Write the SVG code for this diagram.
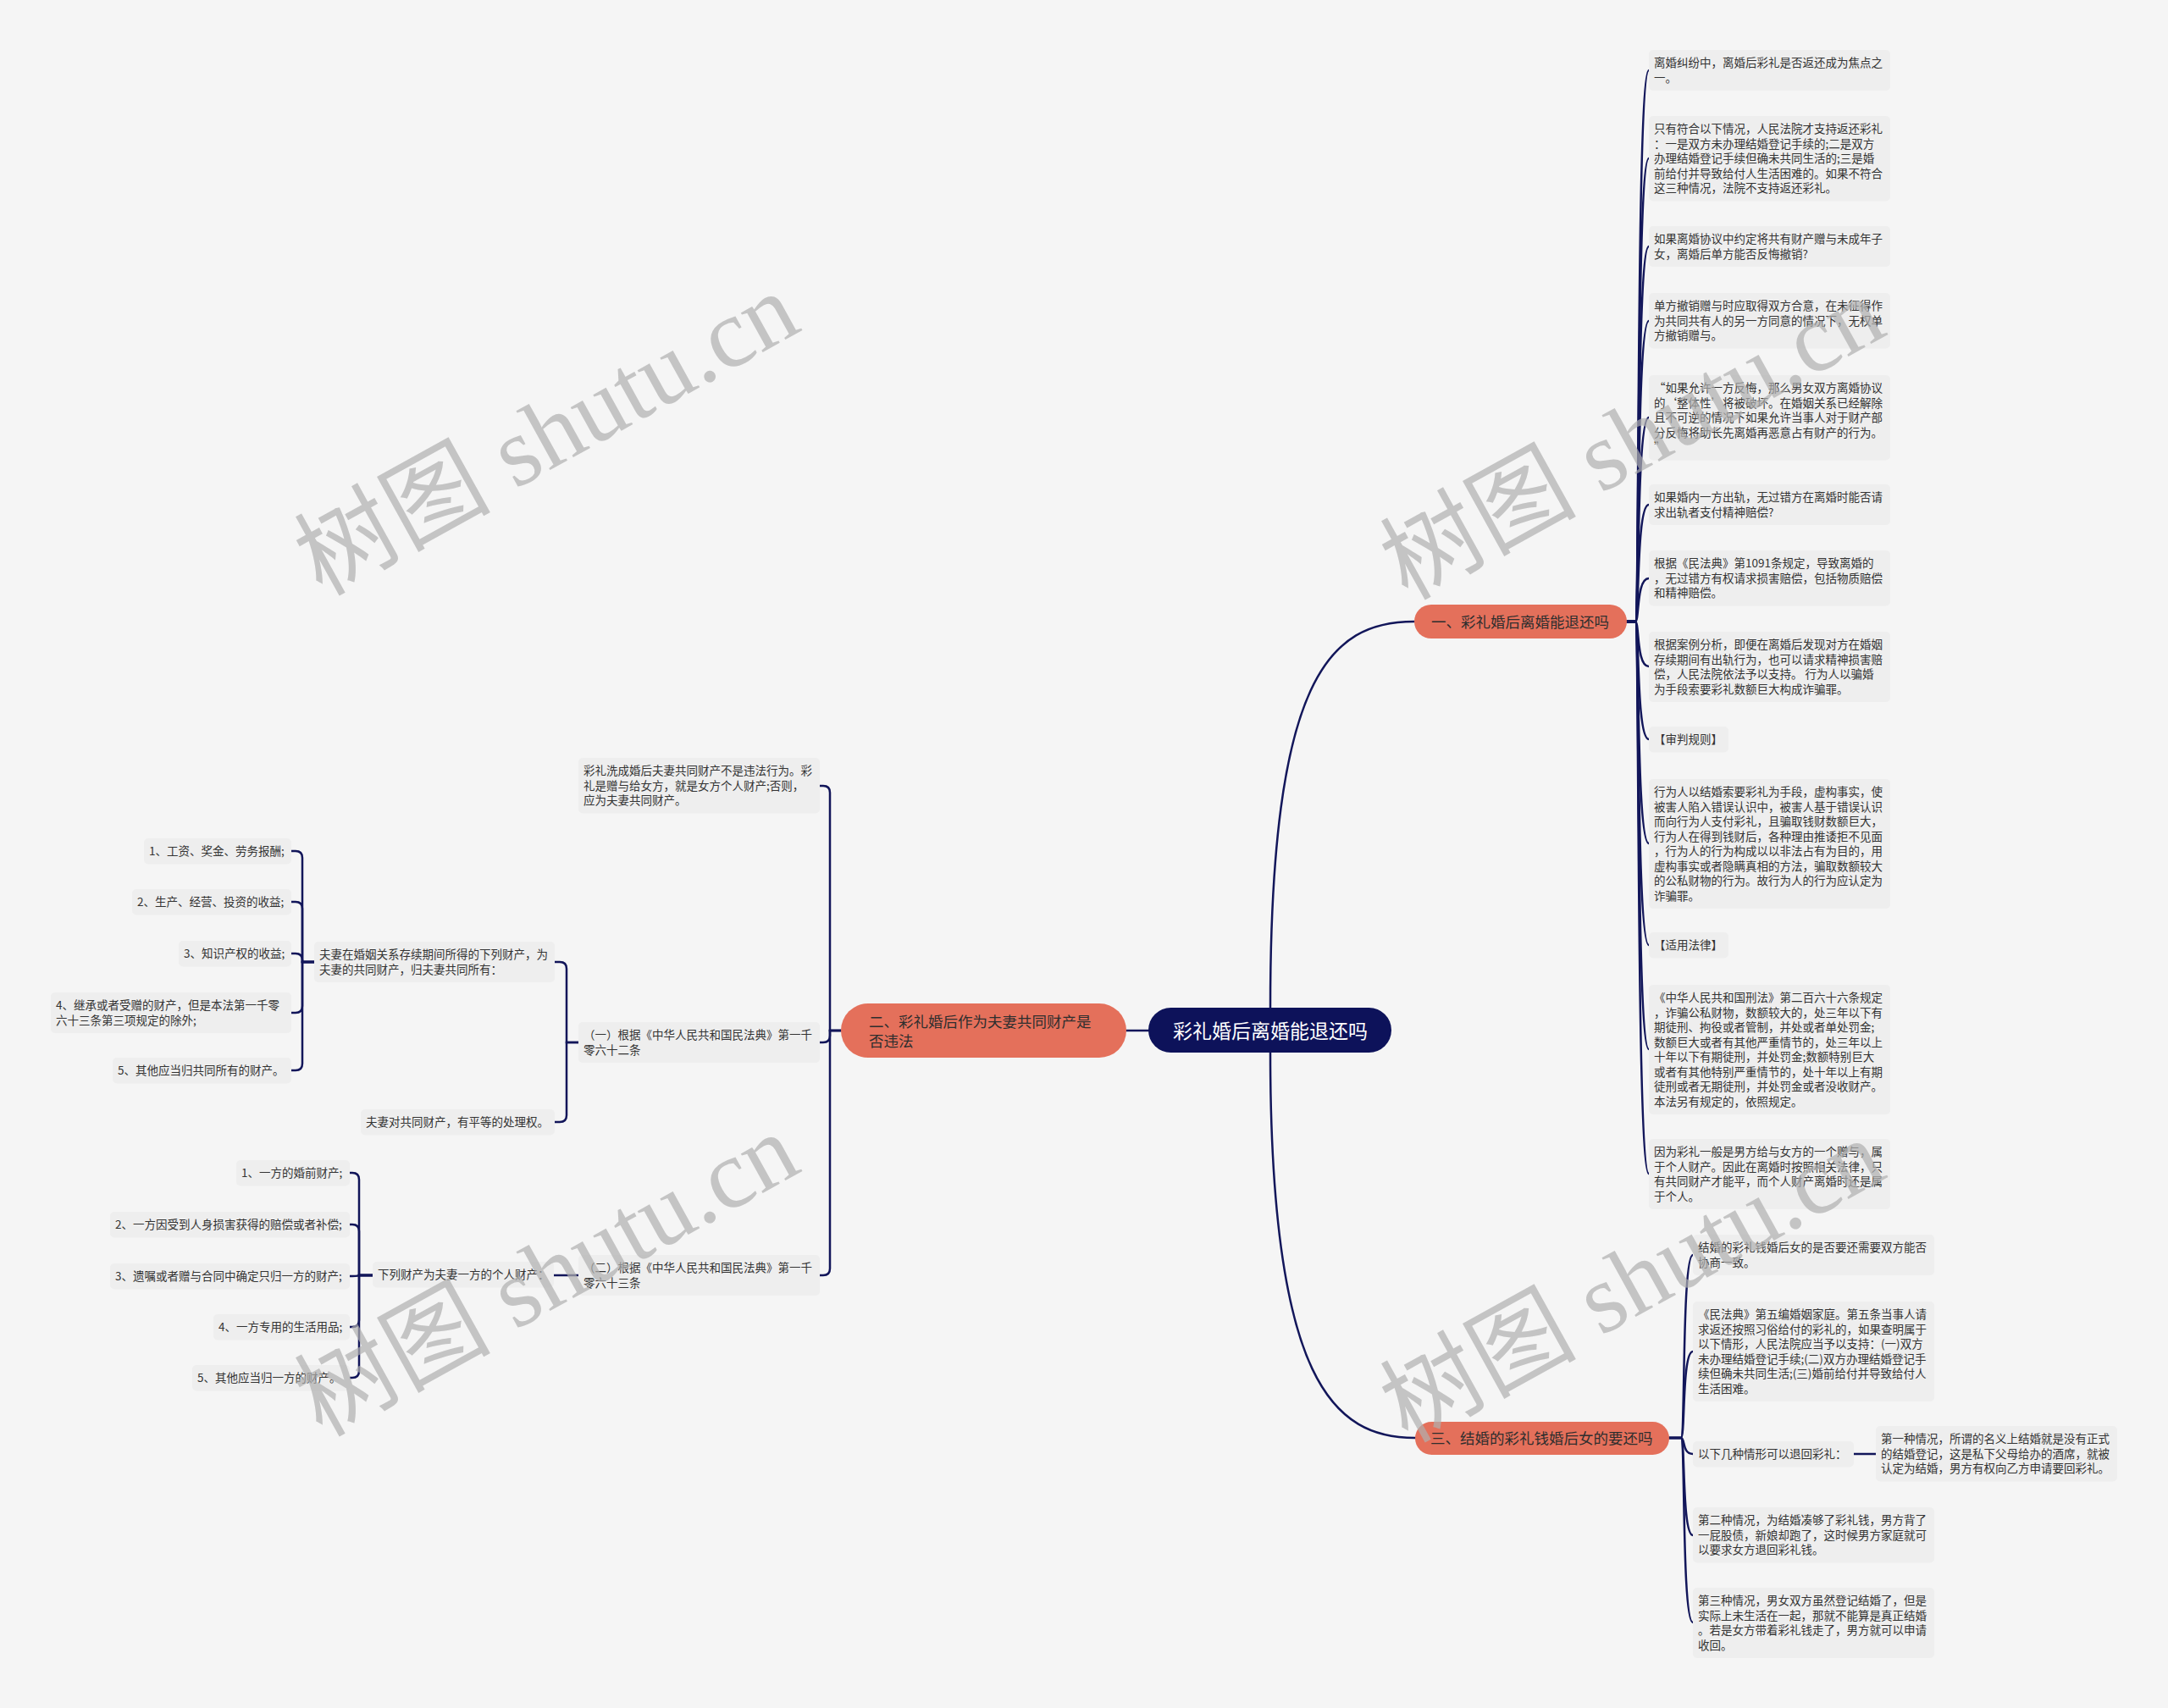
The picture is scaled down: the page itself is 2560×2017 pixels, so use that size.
<svg xmlns="http://www.w3.org/2000/svg" width="2560" height="2017" viewBox="0 0 2560 2017">
<style>
.bg{fill:#f5f5f5}
.leaf rect{fill:#eeeeee}
.leaf text{font-family:'Noto Sans CJK SC','Noto Sans',sans-serif;font-size:13.5px;fill:#333333}
.branch rect{fill:#e4705b}
.branch text{font-family:'Noto Sans CJK SC','Noto Sans',sans-serif;font-size:17.5px;fill:#2e2e2e}
.root rect{fill:#0d125a}
.root text{font-family:'Noto Sans CJK SC','Noto Sans',sans-serif;font-size:23px;fill:#ffffff}
.conn path{fill:none;stroke:#12165a;stroke-width:2.5;stroke-linecap:round}
.wm{font-family:'Liberation Serif','Noto Sans CJK SC',serif;font-size:116px;fill:#b0b0b0;opacity:0.7}
</style>
<rect class="bg" x="0" y="0" width="2560" height="2017"/>

<g id="connectors" class="conn">
  <path d="M1500,1190 C1500,800 1570,734 1670,734"/>
  <path d="M1500,1243 C1500,1632 1575,1698 1671,1698"/>
  <path d="M1356,1217 H1330"/>
  <path d="M1921,734 L1931,734 C1936,734 1932,83 1947,83"/>
  <path d="M1921,734 L1931,734 C1936,734 1932,187 1947,187"/>
  <path d="M1921,734 L1931,734 C1936,734 1932,291 1947,291"/>
  <path d="M1921,734 L1931,734 C1936,734 1932,379 1947,379"/>
  <path d="M1921,734 L1931,734 C1936,734 1932,493 1947,493"/>
  <path d="M1921,734 L1931,734 C1936,734 1932,596 1947,596"/>
  <path d="M1921,734 L1931,734 C1936,734 1932,683 1947,683"/>
  <path d="M1921,734 L1931,734 C1936,734 1932,787 1947,787"/>
  <path d="M1921,734 L1931,734 C1936,734 1932,873 1947,873"/>
  <path d="M1921,734 L1931,734 C1936,734 1932,996 1947,996"/>
  <path d="M1921,734 L1931,734 C1936,734 1932,1116 1947,1116"/>
  <path d="M1921,734 L1931,734 C1936,734 1932,1239 1947,1239"/>
  <path d="M1921,734 L1931,734 C1936,734 1932,1386 1947,1386"/>
  <path d="M1971,1698 L1985,1698 C1990,1698 1986,1482 1999,1482"/>
  <path d="M1971,1698 L1985,1698 C1990,1698 1986,1596 1999,1596"/>
  <path d="M1971,1698 L1985,1698 C1990,1698 1986,1717 1999,1717"/>
  <path d="M1971,1698 L1985,1698 C1990,1698 1986,1813 1999,1813"/>
  <path d="M1971,1698 L1985,1698 C1990,1698 1986,1916 1999,1916"/>
  <path d="M2189,1717 H2215"/>
  <path d="M993,1217 H980 V936 Q980,928 972,928 H968"/>
  <path d="M993,1217 H980 V1223 Q980,1231 972,1231 H968"/>
  <path d="M993,1217 H980 V1498 Q980,1506 972,1506 H968"/>
  <path d="M683,1231 H669 V1144 Q669,1136 661,1136 H655"/>
  <path d="M683,1231 H669 V1317 Q669,1325 661,1325 H655"/>
  <path d="M371,1136 H357 V1013 Q357,1005 349,1005 H344"/>
  <path d="M371,1136 H357 V1073 Q357,1065 349,1065 H344"/>
  <path d="M371,1136 H357 V1134 Q357,1126 349,1126 H344"/>
  <path d="M371,1136 H357 V1188 Q357,1196 349,1196 H344"/>
  <path d="M371,1136 H357 V1256 Q357,1264 349,1264 H344"/>
  <path d="M683,1506 H654"/>
  <path d="M440,1506 H424 V1393 Q424,1385 416,1385 H413"/>
  <path d="M440,1506 H424 V1454 Q424,1446 416,1446 H413"/>
  <path d="M440,1506 H424 V1506 Q424,1507 416,1507 H413"/>
  <path d="M440,1506 H424 V1559 Q424,1567 416,1567 H413"/>
  <path d="M440,1506 H424 V1619 Q424,1627 416,1627 H413"/>
</g>

<g id="root" class="root">
  <rect x="1356" y="1190" width="287" height="53" rx="26.5"/>
  <text x="1500" y="1225.7" text-anchor="middle">彩礼婚后离婚能退还吗</text>
</g>

<g id="branch-1" class="branch">
  <rect x="1670" y="714" width="251" height="40" rx="20"/>
  <text x="1690" y="740.7">一、彩礼婚后离婚能退还吗</text>
</g>
<g id="branch-2" class="branch">
  <rect x="993" y="1185" width="337" height="64" rx="32"/>
  <text><tspan x="1026" y="1213">二、彩礼婚后作为夫妻共同财产是</tspan><tspan x="1026" y="1236">否违法</tspan></text>
</g>
<g id="branch-3" class="branch">
  <rect x="1671" y="1679" width="300" height="39" rx="19.5"/>
  <text x="1689" y="1704.7">三、结婚的彩礼钱婚后女的要还吗</text>
</g>

<g id="r1" class="leaf"><rect x="1947" y="59" width="285" height="48" rx="5"/>
<text><tspan x="1953" y="79.4">离婚纠纷中，离婚后彩礼是否返还成为焦点之</tspan><tspan x="1953" y="96.9">一。</tspan></text></g>
<g id="r2" class="leaf"><rect x="1947" y="137" width="285" height="100.5" rx="5"/>
<text><tspan x="1953" y="157.4">只有符合以下情况，人民法院才支持返还彩礼</tspan><tspan x="1953" y="174.9">：一是双方未办理结婚登记手续的;二是双方</tspan><tspan x="1953" y="192.4">办理结婚登记手续但确未共同生活的;三是婚</tspan><tspan x="1953" y="209.9">前给付并导致给付人生活困难的。如果不符合</tspan><tspan x="1953" y="227.4">这三种情况，法院不支持返还彩礼。</tspan></text></g>
<g id="r3" class="leaf"><rect x="1947" y="267" width="285" height="48" rx="5"/>
<text><tspan x="1953" y="287.4">如果离婚协议中约定将共有财产赠与未成年子</tspan><tspan x="1953" y="304.9">女，离婚后单方能否反悔撤销?</tspan></text></g>
<g id="r4" class="leaf"><rect x="1947" y="346" width="285" height="65.5" rx="5"/>
<text><tspan x="1953" y="366.4">单方撤销赠与时应取得双方合意，在未征得作</tspan><tspan x="1953" y="383.9">为共同共有人的另一方同意的情况下，无权单</tspan><tspan x="1953" y="401.4">方撤销赠与。</tspan></text></g>
<g id="r5" class="leaf"><rect x="1947" y="443" width="285" height="100.5" rx="5"/>
<text><tspan x="1953" y="463.4">“如果允许一方反悔，那么男女双方离婚协议</tspan><tspan x="1953" y="480.9">的‘整体性’将被破坏。在婚姻关系已经解除</tspan><tspan x="1953" y="498.4">且不可逆的情况下如果允许当事人对于财产部</tspan><tspan x="1953" y="515.9">分反悔将助长先离婚再恶意占有财产的行为。</tspan><tspan x="1953" y="533.4">”</tspan></text></g>
<g id="r6" class="leaf"><rect x="1947" y="572" width="285" height="48" rx="5"/>
<text><tspan x="1953" y="592.4">如果婚内一方出轨，无过错方在离婚时能否请</tspan><tspan x="1953" y="609.9">求出轨者支付精神赔偿?</tspan></text></g>
<g id="r7" class="leaf"><rect x="1947" y="650" width="285" height="65.5" rx="5"/>
<text><tspan x="1953" y="670.4">根据《民法典》第1091条规定，导致离婚的</tspan><tspan x="1953" y="687.9">，无过错方有权请求损害赔偿，包括物质赔偿</tspan><tspan x="1953" y="705.4">和精神赔偿。</tspan></text></g>
<g id="r8" class="leaf"><rect x="1947" y="746" width="285" height="83" rx="5"/>
<text><tspan x="1953" y="766.4">根据案例分析，即便在离婚后发现对方在婚姻</tspan><tspan x="1953" y="783.9">存续期间有出轨行为，也可以请求精神损害赔</tspan><tspan x="1953" y="801.4">偿，人民法院依法予以支持。 行为人以骗婚</tspan><tspan x="1953" y="818.9">为手段索要彩礼数额巨大构成诈骗罪。</tspan></text></g>
<g id="r9" class="leaf"><rect x="1947" y="858" width="94" height="30.5" rx="5"/>
<text x="1953" y="878.4">【审判规则】</text></g>
<g id="r10" class="leaf"><rect x="1947" y="920" width="285" height="153" rx="5"/>
<text><tspan x="1953" y="940.4">行为人以结婚索要彩礼为手段，虚构事实，使</tspan><tspan x="1953" y="957.9">被害人陷入错误认识中，被害人基于错误认识</tspan><tspan x="1953" y="975.4">而向行为人支付彩礼，且骗取钱财数额巨大，</tspan><tspan x="1953" y="992.9">行为人在得到钱财后，各种理由推诿拒不见面</tspan><tspan x="1953" y="1010.4">，行为人的行为构成以以非法占有为目的，用</tspan><tspan x="1953" y="1027.9">虚构事实或者隐瞒真相的方法，骗取数额较大</tspan><tspan x="1953" y="1045.4">的公私财物的行为。故行为人的行为应认定为</tspan><tspan x="1953" y="1062.9">诈骗罪。</tspan></text></g>
<g id="r11" class="leaf"><rect x="1947" y="1101" width="94" height="30.5" rx="5"/>
<text x="1953" y="1121.4">【适用法律】</text></g>
<g id="r12" class="leaf"><rect x="1947" y="1163" width="285" height="153" rx="5"/>
<text><tspan x="1953" y="1183.4">《中华人民共和国刑法》第二百六十六条规定</tspan><tspan x="1953" y="1200.9">，诈骗公私财物，数额较大的，处三年以下有</tspan><tspan x="1953" y="1218.4">期徒刑、拘役或者管制，并处或者单处罚金;</tspan><tspan x="1953" y="1235.9">数额巨大或者有其他严重情节的，处三年以上</tspan><tspan x="1953" y="1253.4">十年以下有期徒刑，并处罚金;数额特别巨大</tspan><tspan x="1953" y="1270.9">或者有其他特别严重情节的，处十年以上有期</tspan><tspan x="1953" y="1288.4">徒刑或者无期徒刑，并处罚金或者没收财产。</tspan><tspan x="1953" y="1305.9">本法另有规定的，依照规定。</tspan></text></g>
<g id="r13" class="leaf"><rect x="1947" y="1345" width="285" height="83" rx="5"/>
<text><tspan x="1953" y="1365.4">因为彩礼一般是男方给与女方的一个赠与，属</tspan><tspan x="1953" y="1382.9">于个人财产。因此在离婚时按照相关法律，只</tspan><tspan x="1953" y="1400.4">有共同财产才能平，而个人财产离婚时还是属</tspan><tspan x="1953" y="1417.9">于个人。</tspan></text></g>

<g id="t1" class="leaf"><rect x="1999" y="1458" width="285" height="48" rx="5"/>
<text><tspan x="2005" y="1478.4">结婚的彩礼钱婚后女的是否要还需要双方能否</tspan><tspan x="2005" y="1495.9">协商一致。</tspan></text></g>
<g id="t2" class="leaf"><rect x="1999" y="1537" width="285" height="118" rx="5"/>
<text><tspan x="2005" y="1557.4">《民法典》第五编婚姻家庭。第五条当事人请</tspan><tspan x="2005" y="1574.9">求返还按照习俗给付的彩礼的，如果查明属于</tspan><tspan x="2005" y="1592.4">以下情形，人民法院应当予以支持：(一)双方</tspan><tspan x="2005" y="1609.9">未办理结婚登记手续;(二)双方办理结婚登记手</tspan><tspan x="2005" y="1627.4">续但确未共同生活;(三)婚前给付并导致给付人</tspan><tspan x="2005" y="1644.9">生活困难。</tspan></text></g>
<g id="t3" class="leaf"><rect x="1999" y="1702" width="190" height="30.5" rx="5"/>
<text x="2005" y="1722.4">以下几种情形可以退回彩礼：</text></g>
<g id="t3a" class="leaf"><rect x="2215" y="1684" width="285" height="65.5" rx="5"/>
<text><tspan x="2221" y="1704.4">第一种情况，所谓的名义上结婚就是没有正式</tspan><tspan x="2221" y="1721.9">的结婚登记，这是私下父母给办的酒席，就被</tspan><tspan x="2221" y="1739.4">认定为结婚，男方有权向乙方申请要回彩礼。</tspan></text></g>
<g id="t4" class="leaf"><rect x="1999" y="1780" width="285" height="65.5" rx="5"/>
<text><tspan x="2005" y="1800.4">第二种情况，为结婚凑够了彩礼钱，男方背了</tspan><tspan x="2005" y="1817.9">一屁股债，新娘却跑了，这时候男方家庭就可</tspan><tspan x="2005" y="1835.4">以要求女方退回彩礼钱。</tspan></text></g>
<g id="t5" class="leaf"><rect x="1999" y="1875" width="285" height="83" rx="5"/>
<text><tspan x="2005" y="1895.4">第三种情况，男女双方虽然登记结婚了，但是</tspan><tspan x="2005" y="1912.9">实际上未生活在一起，那就不能算是真正结婚</tspan><tspan x="2005" y="1930.4">。若是女方带着彩礼钱走了，男方就可以申请</tspan><tspan x="2005" y="1947.9">收回。</tspan></text></g>

<g id="s1" class="leaf"><rect x="683" y="895" width="285" height="65.5" rx="5"/>
<text><tspan x="689" y="915.4">彩礼洗成婚后夫妻共同财产不是违法行为。彩</tspan><tspan x="689" y="932.9">礼是赠与给女方，就是女方个人财产;否则，</tspan><tspan x="689" y="950.4">应为夫妻共同财产。</tspan></text></g>
<g id="s2" class="leaf"><rect x="683" y="1207" width="285" height="48" rx="5"/>
<text><tspan x="689" y="1227.4">（一）根据《中华人民共和国民法典》第一千</tspan><tspan x="689" y="1244.9">零六十二条</tspan></text></g>
<g id="s2a" class="leaf"><rect x="371" y="1112" width="284" height="48" rx="5"/>
<text><tspan x="377" y="1132.4">夫妻在婚姻关系存续期间所得的下列财产，为</tspan><tspan x="377" y="1149.9">夫妻的共同财产，归夫妻共同所有：</tspan></text></g>
<g id="s2a1" class="leaf"><rect x="170" y="990" width="174" height="30.5" rx="5"/>
<text x="176" y="1010.4">1、工资、奖金、劳务报酬;</text></g>
<g id="s2a2" class="leaf"><rect x="156" y="1050" width="188" height="30.5" rx="5"/>
<text x="162" y="1070.4">2、生产、经营、投资的收益;</text></g>
<g id="s2a3" class="leaf"><rect x="211" y="1111" width="133" height="30.5" rx="5"/>
<text x="217" y="1131.4">3、知识产权的收益;</text></g>
<g id="s2a4" class="leaf"><rect x="60" y="1172" width="284" height="48" rx="5"/>
<text><tspan x="66" y="1192.4">4、继承或者受赠的财产，但是本法第一千零</tspan><tspan x="66" y="1209.9">六十三条第三项规定的除外;</tspan></text></g>
<g id="s2a5" class="leaf"><rect x="133" y="1249" width="211" height="30.5" rx="5"/>
<text x="139" y="1269.4">5、其他应当归共同所有的财产。</text></g>
<g id="s2b" class="leaf"><rect x="426" y="1310" width="229" height="30.5" rx="5"/>
<text x="432" y="1330.4">夫妻对共同财产，有平等的处理权。</text></g>
<g id="s3" class="leaf"><rect x="683" y="1482" width="285" height="48" rx="5"/>
<text><tspan x="689" y="1502.4">（二）根据《中华人民共和国民法典》第一千</tspan><tspan x="689" y="1519.9">零六十三条</tspan></text></g>
<g id="s3a" class="leaf"><rect x="440" y="1490" width="214" height="30.5" rx="5"/>
<text x="446" y="1510.4">下列财产为夫妻一方的个人财产：</text></g>
<g id="s3a1" class="leaf"><rect x="279" y="1370" width="134" height="30.5" rx="5"/>
<text x="285" y="1390.4">1、一方的婚前财产;</text></g>
<g id="s3a2" class="leaf"><rect x="130" y="1431" width="283" height="30.5" rx="5"/>
<text x="136" y="1451.4">2、一方因受到人身损害获得的赔偿或者补偿;</text></g>
<g id="s3a3" class="leaf"><rect x="130" y="1492" width="283" height="30.5" rx="5"/>
<text x="136" y="1512.4">3、遗嘱或者赠与合同中确定只归一方的财产;</text></g>
<g id="s3a4" class="leaf"><rect x="252" y="1552" width="161" height="30.5" rx="5"/>
<text x="258" y="1572.4">4、一方专用的生活用品;</text></g>
<g id="s3a5" class="leaf"><rect x="227" y="1612" width="186" height="30.5" rx="5"/>
<text x="233" y="1632.4">5、其他应当归一方的财产。</text></g>

<g id="watermarks">
  <text class="wm" transform="translate(645,512) rotate(-29)" x="0" y="40" text-anchor="middle">树图 shutu.cn</text>
  <text class="wm" transform="translate(1927,517) rotate(-29)" x="0" y="40" text-anchor="middle">树图 shutu.cn</text>
  <text class="wm" transform="translate(645,1505) rotate(-29)" x="0" y="40" text-anchor="middle">树图 shutu.cn</text>
  <text class="wm" transform="translate(1927,1512) rotate(-29)" x="0" y="40" text-anchor="middle">树图 shutu.cn</text>
</g>
</svg>
